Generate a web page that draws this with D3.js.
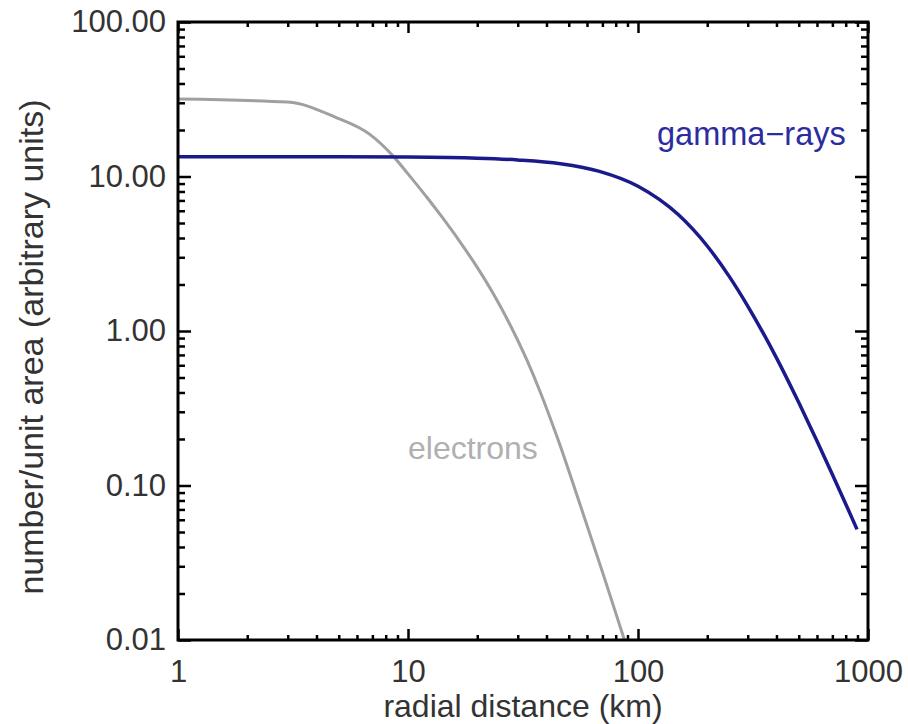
<!DOCTYPE html>
<html>
<head>
<meta charset="utf-8">
<script src="https://cdn.jsdelivr.net/npm/d3@7"></script>
<style>
  body { margin: 0; background: #fff; }
  svg text { font-family: "Liberation Sans", Arial, Helvetica, sans-serif; }
</style>
</head>
<body>
<svg id="chart"></svg>
<script>
// Define SVG dimensions
const width = 908;
const height = 724;

// Data (radial distance in km, number per unit area)
const gammaDist = [1, 5, 10, 20, 30, 46, 68, 100, 150, 200, 250, 300, 400, 500, 600, 700, 800, 896];
const gammaVal = [13.4, 13.4, 13.35, 13.15, 12.8, 12.1, 10.8, 8.65, 5.65, 3.55, 2.24, 1.45, 0.67, 0.344, 0.194, 0.118, 0.076, 0.052];

const electronDist = [1, 3, 4.9, 6.8, 8.6, 10, 12.1, 14.1, 16.8, 20, 23.4, 28.2, 32.9, 37.5, 44.7, 56.2, 70.8, 87.3];
const electronVal = [31.7, 30.3, 24, 18.8, 13.6, 10.4, 7.31, 5.43, 3.79, 2.58, 1.76, 1.05, 0.647, 0.406, 0.202, 0.0741, 0.0263, 0.01];

const xMajor = [1, 10, 100, 1000];
const yMajor = [0.01, 0.1, 1, 10, 100];

const svg = d3.select("#chart")
  .attr("width", width)
  .attr("height", height);

// Plot frame
const plotLeft = 178, plotRight = 868, plotTop = 22, plotBottom = 640;

const x = d3.scaleLog().domain([1, 1000]).range([plotLeft, plotRight]);
const y = d3.scaleLog().domain([0.01, 100]).range([plotBottom, plotTop]);

// minor ticks 2..9 inside every decade
const minors = majors => majors.slice(0, -1).flatMap(d => d3.range(2, 10).map(k => k * d));
const xMinor = minors(xMajor);
const yMinor = minors(yMajor);

// helper to draw an axis with inward ticks
function drawAxis(axisFn, scale, transform, values, size, withLabels, fmt, pad) {
  const a = axisFn(scale)
    .tickValues(values)
    .tickSizeInner(-size)
    .tickSizeOuter(0)
    .tickPadding(pad || 0)
    .tickFormat(withLabels ? fmt : "");
  const g = svg.append("g")
    .attr("transform", transform)
    .call(a);
  g.select(".domain").remove();
  g.selectAll(".tick line").attr("stroke", "#000").attr("stroke-width", 2.5);
  g.selectAll(".tick text")
    .attr("fill", "#333")
    .style("font-size", "31px");
  return g;
}

// bottom / top
drawAxis(d3.axisBottom, x, `translate(0,${plotBottom})`, xMinor, 5, false);
drawAxis(d3.axisBottom, x, `translate(0,${plotBottom})`, xMajor, 11, true, d3.format("d"), 20);
drawAxis(d3.axisTop, x, `translate(0,${plotTop})`, xMinor, 5, false);
drawAxis(d3.axisTop, x, `translate(0,${plotTop})`, xMajor, 11, false);

// left / right
drawAxis(d3.axisLeft, y, `translate(${plotLeft},0)`, yMinor, 7, false);
drawAxis(d3.axisLeft, y, `translate(${plotLeft},0)`, yMajor, 13, true, d3.format(".2f"), 12);
drawAxis(d3.axisRight, y, `translate(${plotRight},0)`, yMinor, 7, false);
drawAxis(d3.axisRight, y, `translate(${plotRight},0)`, yMajor, 13, false);

// lines
const line = d3.line()
  .x(d => x(d[0]))
  .y(d => y(d[1]))
  .curve(d3.curveMonotoneX);

svg.append("path")
  .datum(d3.zip(electronDist, electronVal))
  .attr("fill", "none")
  .attr("stroke", "#a0a0a0")
  .attr("stroke-width", 3)
  .attr("d", line);

svg.append("path")
  .datum(d3.zip(gammaDist, gammaVal))
  .attr("fill", "none")
  .attr("stroke", "#1a1a8c")
  .attr("stroke-width", 3.5)
  .attr("d", line);

// frame on top
svg.append("rect")
  .attr("x", plotLeft)
  .attr("y", plotTop)
  .attr("width", plotRight - plotLeft)
  .attr("height", plotBottom - plotTop)
  .attr("fill", "none")
  .attr("stroke", "#000")
  .attr("stroke-width", 3);

// series labels
svg.append("text")
  .attr("x", 657)
  .attr("y", 145)
  .attr("fill", "#2c2ca0")
  .style("font-size", "32.5px")
  .text("gamma\u2212rays");

svg.append("text")
  .attr("x", 408)
  .attr("y", 459)
  .attr("fill", "#b0b0b0")
  .style("font-size", "32px")
  .text("electrons");

// axis titles
svg.append("text")
  .attr("x", (plotLeft + plotRight) / 2)
  .attr("y", 717)
  .attr("text-anchor", "middle")
  .attr("fill", "#333")
  .style("font-size", "32px")
  .text("radial distance (km)");

svg.append("text")
  .attr("transform", "translate(43,347) rotate(-90)")
  .attr("text-anchor", "middle")
  .attr("fill", "#333")
  .style("font-size", "34px")
  .text("number/unit area (arbitrary units)");
</script>
</body>
</html>
